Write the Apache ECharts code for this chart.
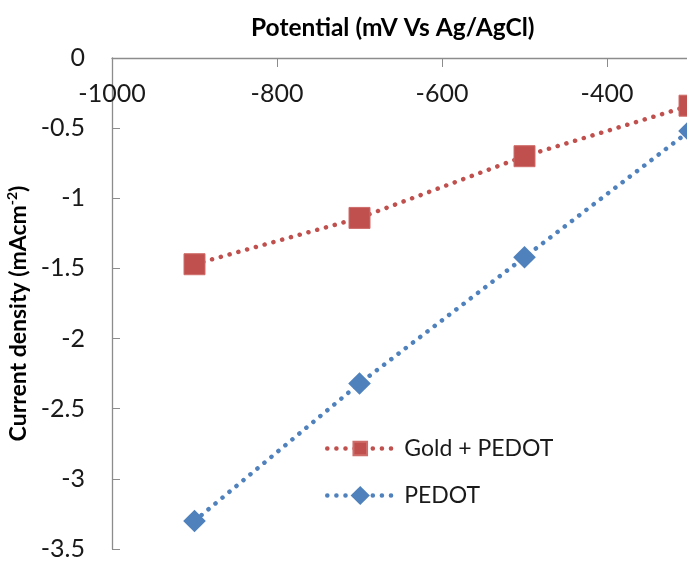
<!DOCTYPE html>
<html>
<head>
<meta charset="utf-8">
<script src="https://cdn.jsdelivr.net/npm/echarts@6/dist/echarts.min.js"></script>
<style>
  html, body { margin: 0; padding: 0; background: #fff; }
  #chart { width: 687px; height: 563px; }
</style>
</head>
<body>
<div id="chart"></div>
<script>
// potential (mV Vs Ag/AgCl)
var potential = [-900, -700, -500, -300];
// current density (mAcm-2)
var goldPedot = [-1.47, -1.14, -0.70, -0.34];
var pedot = [-3.30, -2.32, -1.42, -0.52];
var seriesNames = ['Gold + PEDOT', 'PEDOT'];

function pairs(ys) {
  return potential.map(function (x, i) { return [x, ys[i]]; });
}

var font = 'Lato';
var dots = { width: 4.5, type: [0.1, 9], cap: 'round' };

var myEchart = echarts.init(document.getElementById('chart'));
var option = {
  animation: false,
  title: {
    text: 'Potential (mV Vs Ag/AgCl)',
    left: 246,
    top: 11,
    textStyle: { fontFamily: font, fontWeight: 'bold', fontSize: 24.5, color: '#000' }
  },
  grid: {
    left: 112,
    top: 58,
    width: 660,
    height: 491,
    outerBoundsMode: 'none',
    containLabel: false
  },
  legend: {
    data: seriesNames,
    orient: 'vertical',
    left: 320,
    top: 432,
    itemWidth: 66,
    itemHeight: 17,
    itemGap: 24,
    lineStyle: { width: 4.5, type: [0.1, 9], cap: 'round' },
    textStyle: { fontFamily: font, fontSize: 23, color: '#1a1a1a', padding: [0, 0, 0, 6] }
  },
  xAxis: {
    type: 'value',
    position: 'top',
    min: -1000,
    max: -200,
    interval: 200,
    splitLine: { show: false },
    axisLine: { onZero: false, lineStyle: { color: '#8c8c8c', width: 1.3 } },
    axisTick: { inside: true, length: 9, lineStyle: { color: '#8c8c8c' } },
    axisLabel: {
      inside: true, margin: 23, fontFamily: font, fontSize: 25, color: '#1a1a1a',
      formatter: function (v) { return String(v); }
    }
  },
  yAxis: {
    type: 'value',
    min: -3.5,
    max: 0,
    interval: 0.5,
    name: '{b|Current density (mAcm}{s|-2}{b|)}',
    nameLocation: 'middle',
    nameGap: 77,
    nameRotate: 90,
    nameTextStyle: {
      padding: [0, 20, 0, 0],
      rich: {
        b: { fontFamily: font, fontWeight: 'bold', fontSize: 23, color: '#000' },
        s: { fontFamily: font, fontWeight: 'bold', fontSize: 14, color: '#000', verticalAlign: 'top', padding: [0, 0, 11, 0] }
      }
    },
    splitLine: { show: false },
    axisLine: { show: true, lineStyle: { color: '#8c8c8c', width: 1.3 } },
    axisTick: { show: true, inside: true, length: 8, lineStyle: { color: '#8c8c8c' } },
    axisLabel: {
      margin: 27, fontFamily: font, fontSize: 25, color: '#1a1a1a',
      formatter: function (v) { return String(v); }
    }
  },
  series: [
    {
      name: seriesNames[0],
      type: 'line',
      data: pairs(goldPedot),
      symbol: 'rect',
      symbolSize: 21,
      itemStyle: { color: '#C0504D', borderColor: '#cf6d6a', borderWidth: 1 },
      lineStyle: Object.assign({ color: '#C0504D' }, dots)
    },
    {
      name: seriesNames[1],
      type: 'line',
      data: pairs(pedot),
      symbol: 'rect',
      symbolSize: 16,
      symbolRotate: 45,
      itemStyle: { color: '#4F81BD' },
      lineStyle: Object.assign({ color: '#4F81BD' }, dots)
    }
  ]
};
myEchart.setOption(option);
</script>
</body>
</html>
